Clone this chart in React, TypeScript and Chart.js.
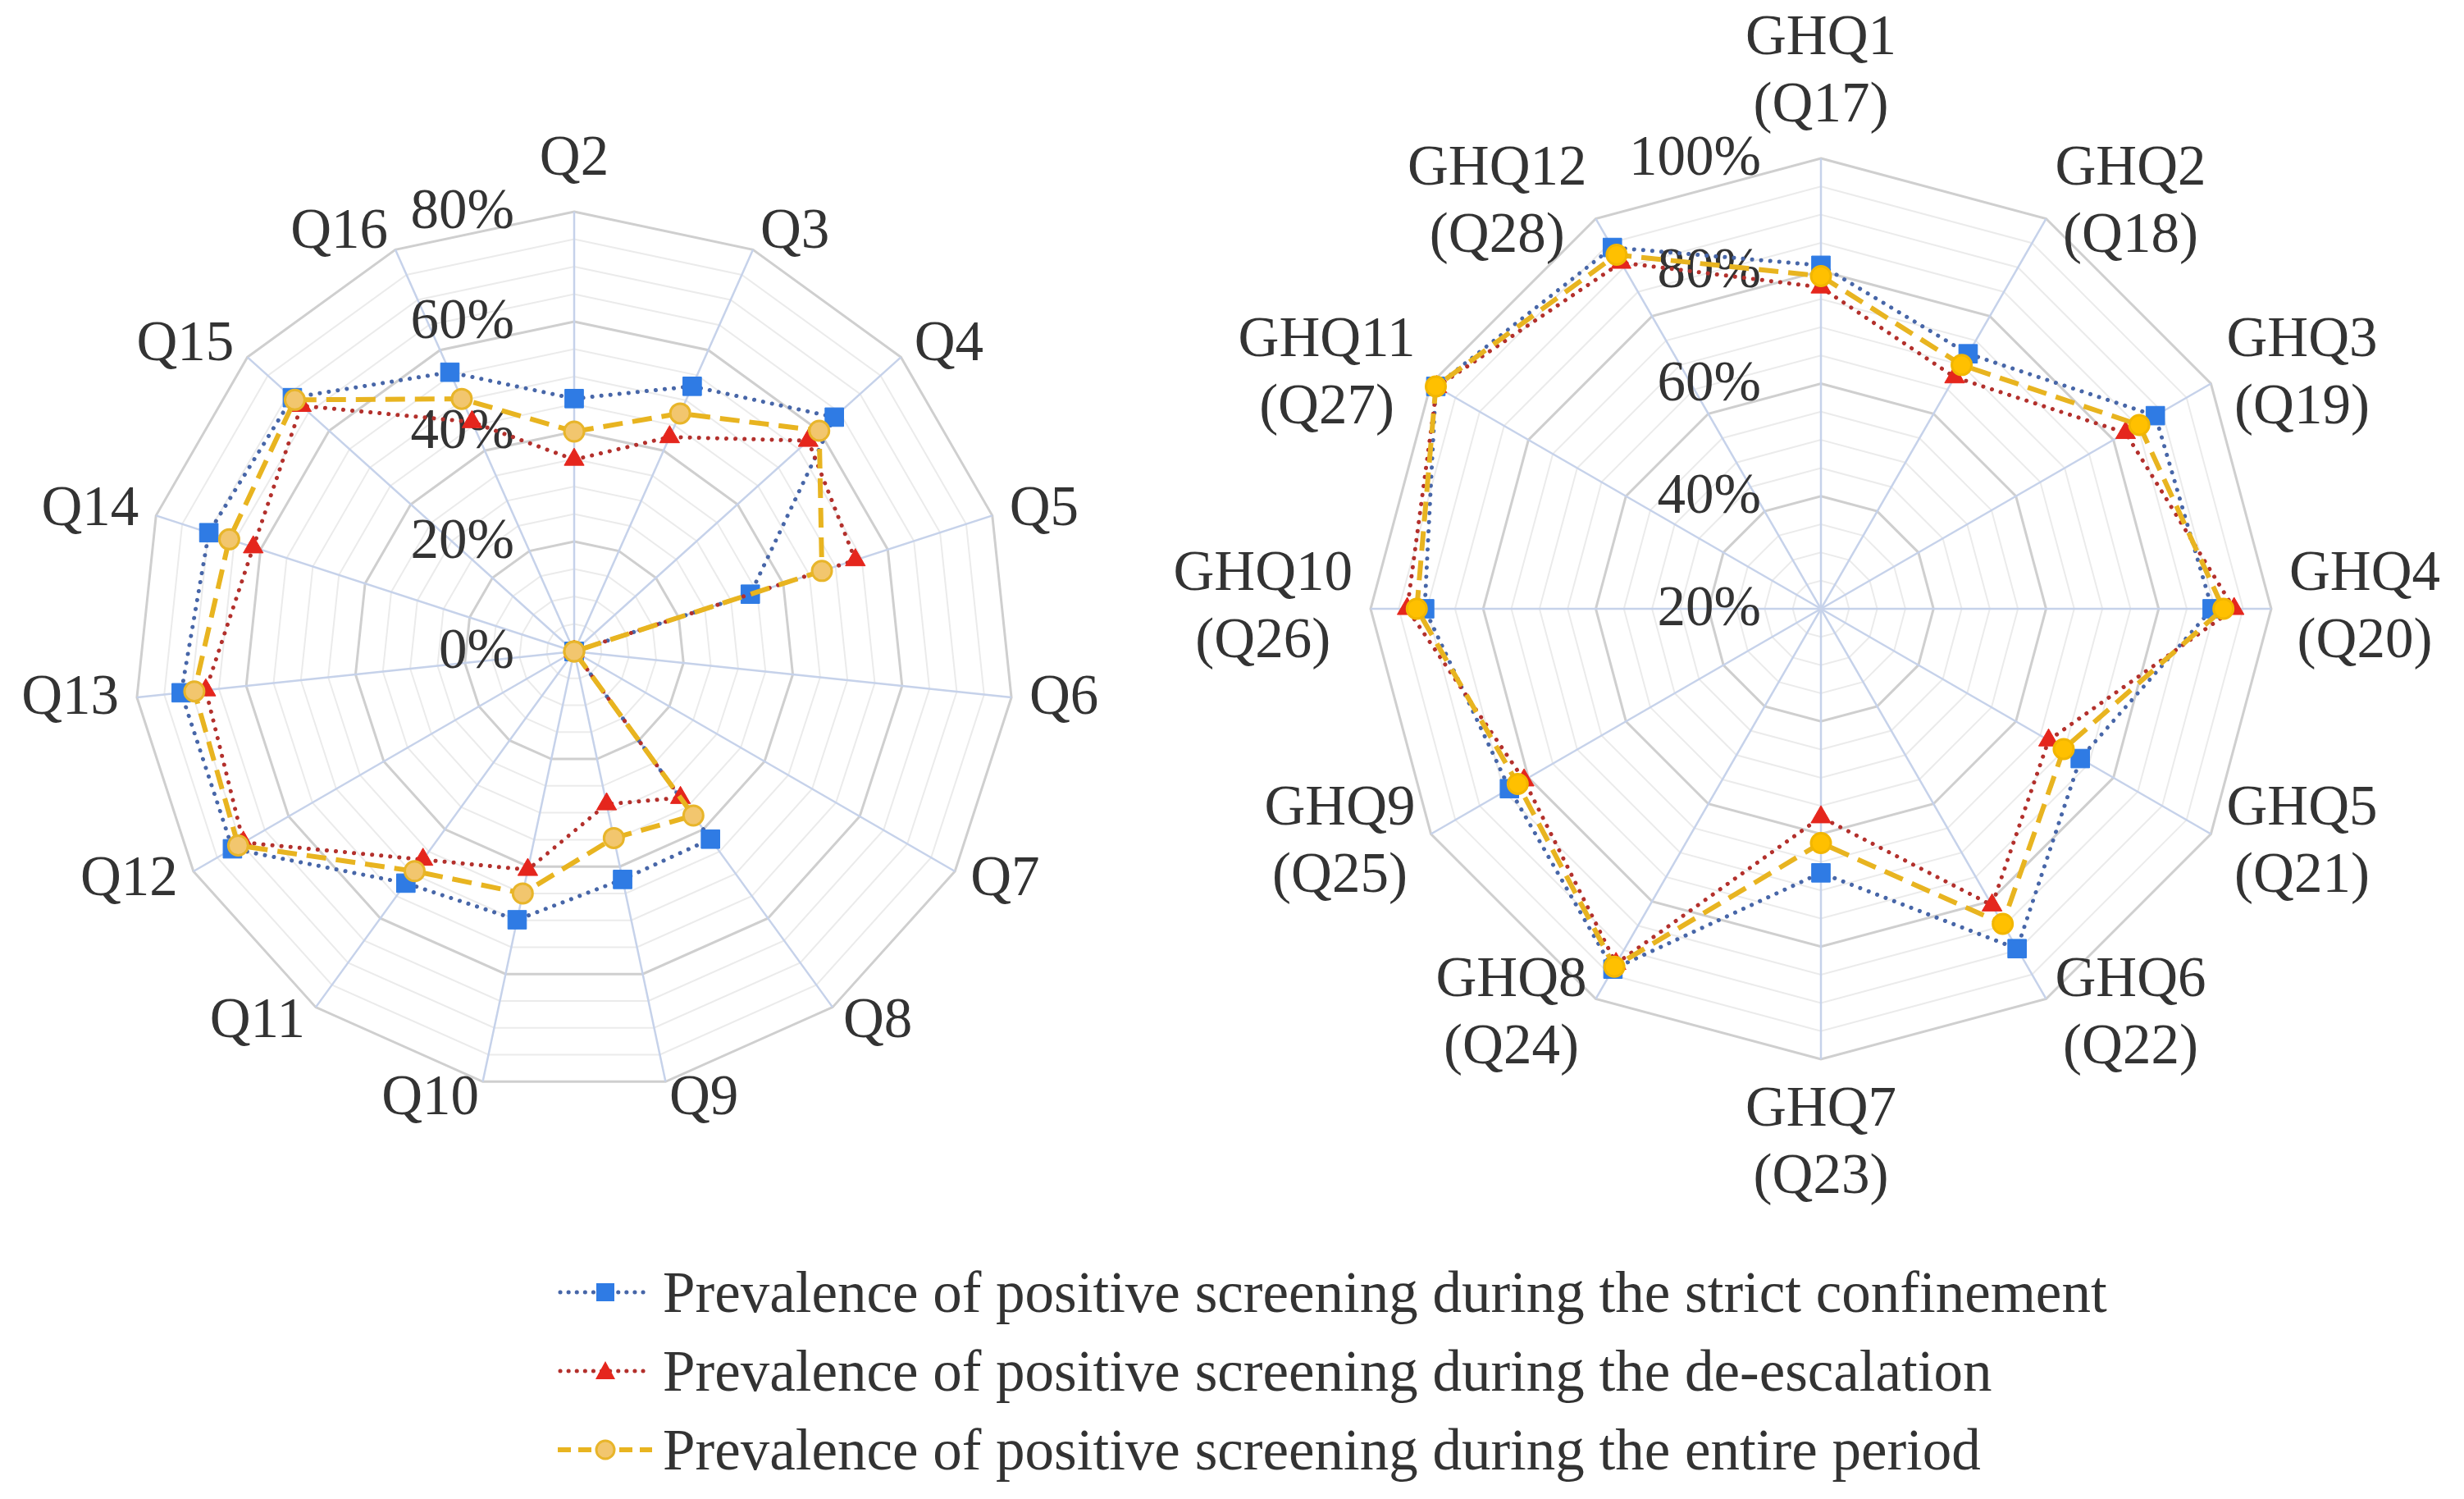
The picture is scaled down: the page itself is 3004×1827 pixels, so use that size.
import React, { useEffect, useRef } from 'react';
import { Chart, registerables } from 'chart.js';

Chart.register(...registerables);

// ---------------- data ----------------
const leftCategories = ['Q2', 'Q3', 'Q4', 'Q5', 'Q6', 'Q7', 'Q8', 'Q9', 'Q10', 'Q11', 'Q12', 'Q13', 'Q14', 'Q15', 'Q16'];
const leftStrict = [46.0, 52.8, 63.7, 33.7, 0, 0, 42.2, 42.4, 49.9, 52.1, 71.8, 71.9, 69.9, 69.0, 55.6];
const leftDeescalation = [34.9, 42.7, 57.3, 53.8, 0, 0, 32.9, 28.4, 40.6, 46.8, 69.5, 67.4, 61.4, 66.8, 45.7];
const leftEntire = [40.0, 47.4, 60.0, 47.4, 0, 0, 36.9, 34.7, 45.0, 49.4, 70.6, 69.5, 66.0, 68.4, 50.3];
const leftTicks = [0, 20, 40, 60, 80];

const rightCategories = [
  ['GHQ1', '(Q17)'], ['GHQ2', '(Q18)'], ['GHQ3', '(Q19)'], ['GHQ4', '(Q20)'],
  ['GHQ5', '(Q21)'], ['GHQ6', '(Q22)'], ['GHQ7', '(Q23)'], ['GHQ8', '(Q24)'],
  ['GHQ9', '(Q25)'], ['GHQ10', '(Q26)'], ['GHQ11', '(Q27)'], ['GHQ12', '(Q28)'],
];
const rightStrict = [81.0, 72.3, 88.6, 89.5, 73.2, 89.7, 66.9, 93.9, 83.9, 90.4, 99.0, 94.1];
const rightDeescalation = [77.1, 67.5, 82.5, 93.4, 66.7, 80.8, 57.0, 92.8, 80.9, 93.5, 98.8, 91.0];
const rightEntire = [79.1, 70.0, 85.3, 91.5, 69.8, 84.6, 61.6, 93.4, 82.2, 91.8, 99.0, 92.6];
const rightTicks = [20, 40, 60, 80, 100];

const seriesNames = [
  'Prevalence of positive screening during the strict confinement',
  'Prevalence of positive screening during the de-escalation',
  'Prevalence of positive screening during the entire period',
];

// ---------------- style ----------------
const FONT = "'Liberation Serif', 'Times New Roman', serif";
const TEXT = '#333333';
const BLUE = '#2f7be4';
const BLUE_LINE = '#4766a8';
const RED = '#e5261d';
const RED_LINE = '#b3302c';
const YEL_LINE = '#e8b420';

const labelPlugin = {
  id: 'customLabels',
  beforeDatasetsDraw(chart: any, _args: any, opts: any) {
    const scale = chart.scales.r;
    const ctx = chart.ctx;
    ctx.save();
    ctx.font = `${opts.tickSize}px ${FONT}`;
    ctx.fillStyle = TEXT;
    ctx.textAlign = 'right';
    ctx.textBaseline = 'middle';
    (opts.ticks as number[]).forEach((v) => {
      const d = scale.getDistanceFromCenterForValue(v);
      ctx.fillText(`${v}%`, scale.xCenter - opts.tickOffset, scale.yCenter - d + 2);
    });
    ctx.restore();
  },
  afterDraw(chart: any, _args: any, opts: any) {
    const scale = chart.scales.r;
    const ctx = chart.ctx;
    const labels = chart.data.labels as any[];
    const n = labels.length;
    ctx.save();
    ctx.font = `${opts.labelSize}px ${FONT}`;
    ctx.fillStyle = TEXT;
    ctx.textAlign = 'center';
    ctx.textBaseline = 'middle';
    const lh = opts.lineHeight;
    labels.forEach((lbl, i) => {
      const lines: string[] = Array.isArray(lbl) ? lbl : [lbl];
      const p = scale.getPointPosition(i, scale.drawingArea + opts.pad);
      const W = Math.max(...lines.map((l) => ctx.measureText(l).width));
      const H = lines.length * lh;
      const a = ((i * 360) / n) % 360;
      let cx: number;
      let top: number;
      if (Math.abs(a) < 1) {
        cx = p.x; top = p.y - H;
      } else if (Math.abs(a - 180) < 1) {
        cx = p.x; top = p.y;
      } else if (a < 180) {
        cx = p.x + W / 2; top = p.y - H / 2;
      } else {
        cx = p.x - W / 2; top = p.y - H / 2;
      }
      lines.forEach((l, k) => ctx.fillText(l, cx, top + lh * (k + 0.5)));
    });
    ctx.restore();
  },
};

function makeConfig(
  labels: any[], strict: number[], deesc: number[], entire: number[],
  min: number, max: number, ticks: number[], padding: any, yFill: string, yBorder: string,
) {
  return {
    type: 'radar' as const,
    data: {
      labels,
      datasets: [
        {
          label: seriesNames[0], data: strict, order: 2,
          borderColor: BLUE_LINE, borderWidth: 5, borderDash: [0.1, 11], borderCapStyle: 'round',
          pointStyle: 'rect', pointRadius: 16, pointBackgroundColor: BLUE, pointBorderColor: BLUE, pointBorderWidth: 1,
          fill: false, tension: 0,
        },
        {
          label: seriesNames[1], data: deesc, order: 1,
          borderColor: RED_LINE, borderWidth: 5, borderDash: [0.1, 11], borderCapStyle: 'round',
          pointStyle: 'triangle', pointRadius: 14, pointBackgroundColor: RED, pointBorderColor: RED, pointBorderWidth: 1,
          fill: false, tension: 0,
        },
        {
          label: seriesNames[2], data: entire, order: 0,
          borderColor: YEL_LINE, borderWidth: 6, borderDash: [24, 12],
          pointStyle: 'circle', pointRadius: 12, pointBackgroundColor: yFill, pointBorderColor: yBorder, pointBorderWidth: 3,
          fill: false, tension: 0,
        },
      ],
    },
    options: {
      responsive: false,
      animation: false,
      devicePixelRatio: 1,
      layout: { padding },
      plugins: {
        legend: { display: false },
        tooltip: { enabled: false },
        customLabels: { ticks, tickOffset: 73, tickSize: 69, labelSize: 69, lineHeight: 82, pad: 22 },
      },
      scales: {
        r: {
          min, max,
          ticks: { display: false, stepSize: 5 },
          pointLabels: { display: false },
          grid: {
            color: (c: any) => (c.tick && c.tick.value % 20 === 0 ? '#cfcfcf' : '#ebebeb'),
            lineWidth: (c: any) => (c.tick && c.tick.value % 20 === 0 ? 3 : 2),
          },
          angleLines: { color: '#c6d2ea', lineWidth: 2.5 },
        },
      },
    },
    plugins: [labelPlugin],
  };
}

function RadarCanvas(props: { config: any; left: number; top: number; width: number; height: number }) {
  const ref = useRef<HTMLCanvasElement | null>(null);
  useEffect(() => {
    if (!ref.current) return;
    const chart = new Chart(ref.current, props.config);
    return () => chart.destroy();
  }, []);
  return (
    <canvas
      ref={ref}
      width={props.width}
      height={props.height}
      style={{ position: 'absolute', left: props.left, top: props.top, width: props.width, height: props.height }}
    />
  );
}

function LegendSymbol({ kind }: { kind: number }) {
  if (kind === 0) {
    return (
      <svg width={115} height={40}>
        <line x1={3} y1={20} x2={112} y2={20} stroke={BLUE_LINE} strokeWidth={5} strokeDasharray="0.1 10" strokeLinecap="round" />
        <rect x={47} y={9} width={22} height={22} fill={BLUE} />
      </svg>
    );
  }
  if (kind === 1) {
    return (
      <svg width={115} height={40}>
        <line x1={3} y1={20} x2={112} y2={20} stroke={RED_LINE} strokeWidth={5} strokeDasharray="0.1 10" strokeLinecap="round" />
        <polygon points="58,8 70,30 46,30" fill={RED} />
      </svg>
    );
  }
  return (
    <svg width={115} height={40}>
      <line x1={0} y1={20} x2={115} y2={20} stroke={YEL_LINE} strokeWidth={6} strokeDasharray="16 9" />
      <circle cx={58} cy={20} r={11} fill="#f2c66e" stroke="#e8b52a" strokeWidth={3} />
    </svg>
  );
}

export default function App() {
  const leftConfig = makeConfig(
    leftCategories, leftStrict, leftDeescalation, leftEntire, 0, 80, leftTicks,
    { left: 164, right: 144, top: 258, bottom: 150 }, '#f2c66e', '#e8b52a',
  );
  const rightConfig = makeConfig(
    rightCategories, rightStrict, rightDeescalation, rightEntire, 20, 100, rightTicks,
    { left: 291, right: 235, top: 193, bottom: 189 }, '#ffc000', '#f2b600',
  );
  const legendRows = [1575, 1671, 1767];
  return (
    <div style={{ position: 'absolute', left: 0, top: 0, width: 3004, height: 1827, background: '#ffffff', overflow: 'hidden' }}>
      <RadarCanvas config={leftConfig} left={0} top={0} width={1380} height={1480} />
      <RadarCanvas config={rightConfig} left={1380} top={0} width={1624} height={1480} />
      {seriesNames.map((name, i) => (
        <div
          key={name}
          style={{
            position: 'absolute', left: 680, top: legendRows[i] - 48, height: 96,
            display: 'flex', alignItems: 'center', whiteSpace: 'nowrap',
            fontFamily: FONT, fontSize: 71, color: TEXT,
          }}
        >
          <LegendSymbol kind={i} />
          <span style={{ marginLeft: 13 }}>{name}</span>
        </div>
      ))}
    </div>
  );
}
